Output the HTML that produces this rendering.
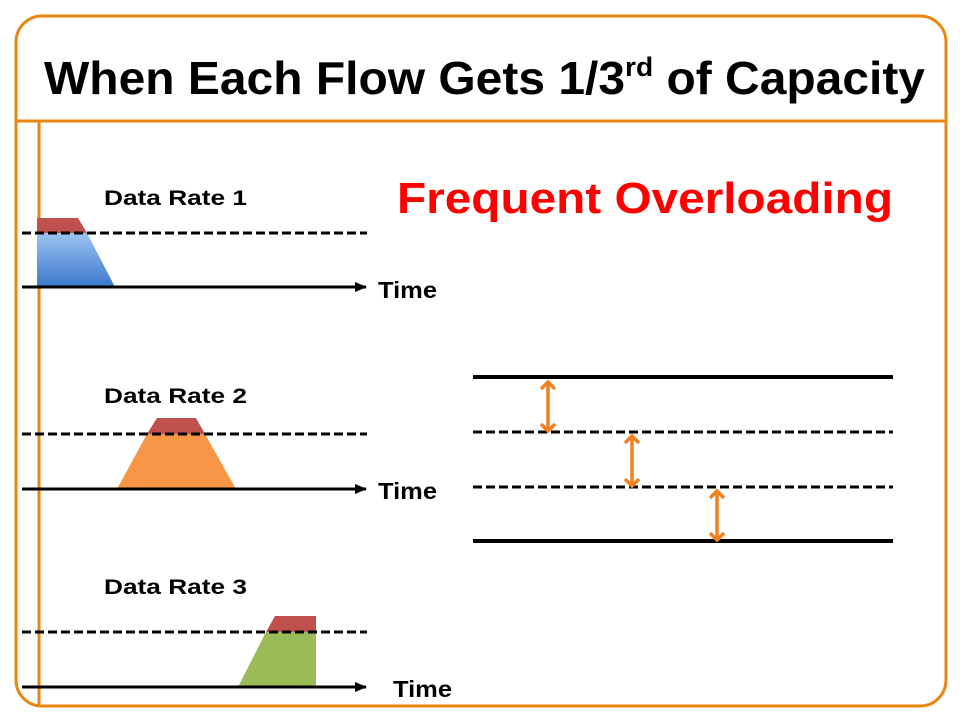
<!DOCTYPE html>
<html><head><meta charset="utf-8"><style>
body{margin:0;width:960px;height:720px;background:#fff;overflow:hidden}
svg{display:block;font-family:"Liberation Sans",Arial,sans-serif}
</style></head><body>
<svg width="960" height="720">
<defs>
<linearGradient id="bg" x1="0" y1="0" x2="0" y2="1"><stop offset="0" stop-color="#9dc3f0"/><stop offset="1" stop-color="#3a78cc"/></linearGradient>
<marker id="ah" markerWidth="12" markerHeight="10" refX="11" refY="5" orient="auto" markerUnits="userSpaceOnUse"><path d="M0,0 L12,5 L0,10 Z" fill="#000"/></marker>
<marker id="oa" markerWidth="16" markerHeight="16" refX="8" refY="8" orient="auto-start-reverse" markerUnits="userSpaceOnUse"><path d="M1,1 L8,8 L1,15" fill="none" stroke="#f08020" stroke-width="3.5"/></marker>
</defs>
<rect x="16" y="16" width="930" height="690" rx="26" fill="#fff" stroke="#e8860f" stroke-width="3"/>
<line x1="16" y1="121" x2="946" y2="121" stroke="#e8860f" stroke-width="3"/>
<line x1="39" y1="121" x2="39" y2="706" stroke="#e8860f" stroke-width="3"/>
<text x="44" y="94" font-size="46" font-weight="bold" textLength="881" lengthAdjust="spacingAndGlyphs">When Each Flow Gets 1/3<tspan font-size="27" dy="-18">rd</tspan><tspan dy="18"> of Capacity</tspan></text>
<text x="397" y="213" font-size="44" font-weight="bold" fill="#f00" textLength="496" lengthAdjust="spacingAndGlyphs">Frequent Overloading</text>

<g>
<text x="104" y="205" font-size="21" font-weight="bold" textLength="143" lengthAdjust="spacingAndGlyphs">Data Rate 1</text>
<polygon points="37,233 87,233 115,287 37,287" fill="url(#bg)"/>
<polygon points="37,218 78,218 87,233 37,233" fill="#c0504d"/>
<line x1="22" y1="233" x2="367" y2="233" stroke="#000" stroke-width="3" stroke-dasharray="9,4"/>
<line x1="22" y1="287" x2="366" y2="287" stroke="#000" stroke-width="3" marker-end="url(#ah)"/>
<text x="378" y="298" font-size="23" font-weight="bold" textLength="59" lengthAdjust="spacingAndGlyphs">Time</text>
</g>
<g>
<text x="104" y="403" font-size="21" font-weight="bold" textLength="143" lengthAdjust="spacingAndGlyphs">Data Rate 2</text>
<polygon points="147,434 205,434 236,489 117,489" fill="#f79646"/>
<polygon points="157,418 196,418 205,434 147,434" fill="#c0504d"/>
<line x1="22" y1="434" x2="367" y2="434" stroke="#000" stroke-width="3" stroke-dasharray="9,4"/>
<line x1="22" y1="489" x2="366" y2="489" stroke="#000" stroke-width="3" marker-end="url(#ah)"/>
<text x="378" y="499" font-size="23" font-weight="bold" textLength="59" lengthAdjust="spacingAndGlyphs">Time</text>
</g>
<g>
<text x="104" y="594" font-size="21" font-weight="bold" textLength="143" lengthAdjust="spacingAndGlyphs">Data Rate 3</text>
<polygon points="266,632 316,632 316,687 238,687" fill="#9bbb59"/>
<polygon points="275,616 316,616 316,632 266,632" fill="#c0504d"/>
<line x1="22" y1="632" x2="367" y2="632" stroke="#000" stroke-width="3" stroke-dasharray="9,4"/>
<line x1="22" y1="687" x2="366" y2="687" stroke="#000" stroke-width="3" marker-end="url(#ah)"/>
<text x="393" y="697" font-size="23" font-weight="bold" textLength="59" lengthAdjust="spacingAndGlyphs">Time</text>
</g>

<g>
<line x1="473" y1="377" x2="893" y2="377" stroke="#000" stroke-width="4"/>
<line x1="473" y1="432" x2="893" y2="432" stroke="#000" stroke-width="3" stroke-dasharray="9,4"/>
<line x1="473" y1="487" x2="893" y2="487" stroke="#000" stroke-width="3" stroke-dasharray="9,4"/>
<line x1="473" y1="541" x2="893" y2="541" stroke="#000" stroke-width="4"/>
<line x1="548" y1="382" x2="548" y2="431" stroke="#f08020" stroke-width="3.5" marker-start="url(#oa)" marker-end="url(#oa)"/>
<line x1="632" y1="436" x2="632" y2="486" stroke="#f08020" stroke-width="3.5" marker-start="url(#oa)" marker-end="url(#oa)"/>
<line x1="717" y1="491" x2="717" y2="540" stroke="#f08020" stroke-width="3.5" marker-start="url(#oa)" marker-end="url(#oa)"/>
</g>
</svg>
</body></html>
